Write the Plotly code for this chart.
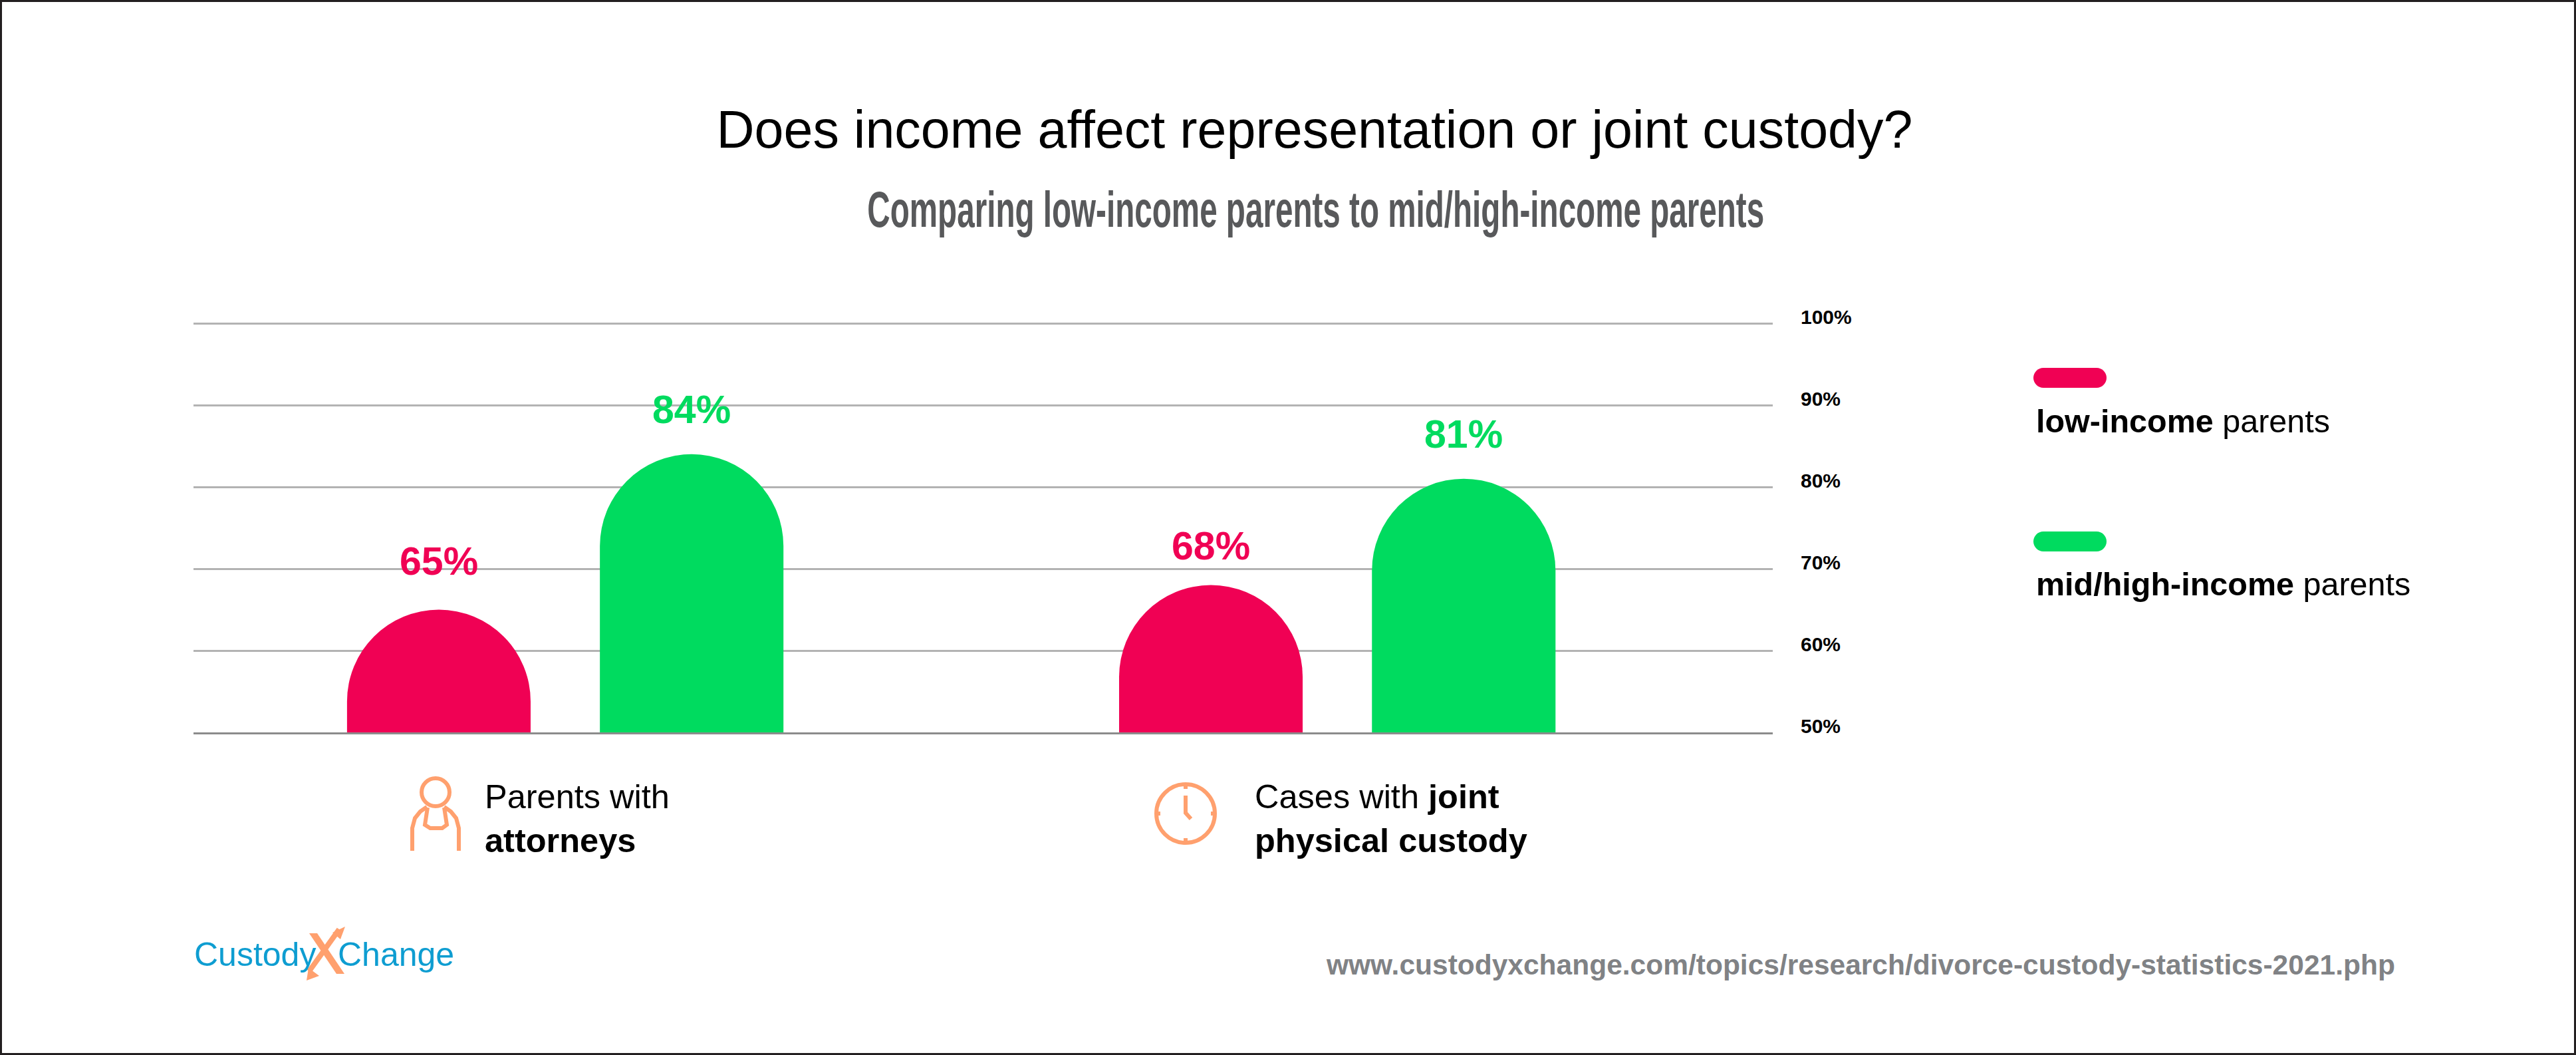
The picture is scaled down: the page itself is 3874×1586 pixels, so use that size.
import plotly.graph_objects as go

W, H = 3874, 1586
L, R, T, B = 291, 2666, 484, 1101

categories = ['Parents with attorneys', 'Cases with joint physical custody']
category_labels = ['Parents with<br><b>attorneys</b>', 'Cases with <b>joint</b><br><b>physical custody</b>']
low_income = [65, 68]
mid_high_income = [84, 81]
y_ticks = [50, 60, 70, 80, 90, 100]
y_tick_labels = ['50%', '60%', '70%', '80%', '90%', '100%']
legend_labels = ['<b>low-income</b> parents', '<b>mid/high-income</b> parents']
subtitle = 'Comparing low-income parents to mid/high-income parents'

PINK = '#f00154'
GREEN = '#00db5f'
ORANGE = '#ffa06e'
BLUE = '#0e9dd1'
FONT = 'Liberation Sans'


# page pixels to paper coordinates
def px(x):
    return (x - L) / (R - L)


def py(y):
    return (B - y) / (B - T)


def path(points, close=False):
    s = 'M ' + ' L '.join(f'{px(x):.5f},{py(y):.5f}' for x, y in points)
    return s + (' Z' if close else '')


def pill(x0, y0, x1, y1, color):
    r = (y1 - y0) / 2
    k = r * 0.45
    d = (f'M {px(x0 + r):.5f},{py(y0):.5f} L {px(x1 - r):.5f},{py(y0):.5f} '
         f'C {px(x1 - k):.5f},{py(y0):.5f} {px(x1):.5f},{py(y0 + k):.5f} {px(x1):.5f},{py(y0 + r):.5f} '
         f'C {px(x1):.5f},{py(y1 - k):.5f} {px(x1 - k):.5f},{py(y1):.5f} {px(x1 - r):.5f},{py(y1):.5f} '
         f'L {px(x0 + r):.5f},{py(y1):.5f} '
         f'C {px(x0 + k):.5f},{py(y1):.5f} {px(x0):.5f},{py(y1 - k):.5f} {px(x0):.5f},{py(y1 - r):.5f} '
         f'C {px(x0):.5f},{py(y0 + k):.5f} {px(x0 + k):.5f},{py(y0):.5f} {px(x0 + r):.5f},{py(y0):.5f} Z')
    return dict(type='path', xref='paper', yref='paper', path=d, fillcolor=color, line=dict(width=0))


def line_shape(points, width=6, color=ORANGE):
    return dict(type='path', xref='paper', yref='paper', path=path(points),
                line=dict(color=color, width=width))


def poly_shape(points, color=ORANGE):
    return dict(type='path', xref='paper', yref='paper', path=path(points, True),
                fillcolor=color, line=dict(width=0))


def circle(cx, cy, r, width=6):
    return dict(type='circle', xref='paper', yref='paper', x0=px(cx - r), x1=px(cx + r),
                y0=py(cy + r), y1=py(cy - r), line=dict(color=ORANGE, width=width))


fig = go.Figure()
fig.add_trace(go.Bar(x=categories, y=low_income, marker=dict(color=PINK, cornerradius='50%', line=dict(width=0))))
fig.add_trace(go.Bar(x=categories, y=mid_high_income, marker=dict(color=GREEN, cornerradius='50%', line=dict(width=0))))

shapes = [
    # frame
    dict(type='rect', xref='paper', yref='paper', x0=px(1.5), x1=px(W - 1.5), y0=py(H - 1.5), y1=py(1.5),
         line=dict(color='#231f20', width=3)),
    # legend swatches
    pill(3058, 553, 3168, 583, PINK),
    pill(3058, 799, 3168, 829, GREEN),
    # person icon
    circle(655, 1191, 21),
    line_shape([(620, 1279), (620, 1245), (624, 1230), (632, 1220), (642, 1213)]),
    line_shape([(690, 1279), (690, 1245), (686, 1230), (678, 1220), (668, 1213)]),
    line_shape([(643, 1214), (639, 1240), (647, 1245), (665, 1245), (672, 1240), (668, 1214)]),
    # clock icon
    circle(1783, 1223, 44),
    line_shape([(1783, 1179), (1783, 1186)]),
    line_shape([(1783, 1260), (1783, 1267)]),
    line_shape([(1739, 1223), (1745, 1223)]),
    line_shape([(1821, 1223), (1827, 1223)]),
    line_shape([(1783, 1196), (1783, 1222), (1791, 1231)]),
    # logo X
    poly_shape([(465, 1403), (477, 1403), (518, 1464), (506, 1464)]),
    line_shape([(465, 1460), (510, 1397)], width=8),
    poly_shape([(519, 1393), (500, 1402), (512, 1412)]),
    poly_shape([(461, 1474), (480, 1467), (464, 1455)]),
]

annotations = []
# data labels sit well above the bars, so they are annotations
low_lift = [73, 59]
high_lift = [67, 67]
for i, cat in enumerate(categories):
    annotations.append(dict(x=cat, y=low_income[i], xshift=-190, yshift=low_lift[i], text=f'<b>{low_income[i]}%</b>',
                            showarrow=False, font=dict(size=59, color=PINK, family=FONT)))
    annotations.append(dict(x=cat, y=mid_high_income[i], xshift=190, yshift=high_lift[i], text=f'<b>{mid_high_income[i]}%</b>',
                            showarrow=False, font=dict(size=59, color=GREEN, family=FONT)))
    annotations.append(dict(x=cat, y=py(1230), yref='paper', xshift=[-123, -126][i], text=category_labels[i],
                            align='left', xanchor='left', yanchor='middle', showarrow=False,
                            font=dict(size=50.5, color='black', family=FONT)))

for label, y in zip(legend_labels, [633, 878]):
    annotations.append(dict(x=px(3060), y=py(y), xref='paper', yref='paper', text=label, align='left',
                            xanchor='left', yanchor='middle', showarrow=False,
                            font=dict(size=48.5, color='black', family=FONT)))

annotations += [
    dict(x=px(1979), y=py(314), xref='paper', yref='paper', text=f'<b>{subtitle}</b>',
         showarrow=False, xanchor='center', yanchor='middle',
         font=dict(size=76, color='#58595b', family=FONT)),
    dict(x=px(290), y=py(1435), xref='paper', yref='paper', text='Custody', showarrow=False,
         xanchor='left', yanchor='middle', font=dict(size=50, color=BLUE, family=FONT)),
    dict(x=px(506), y=py(1435), xref='paper', yref='paper', text='Change', showarrow=False,
         xanchor='left', yanchor='middle', font=dict(size=50, color=BLUE, family=FONT)),
    dict(x=px(3604), y=py(1450), xref='paper', yref='paper',
         text='<b>www.custodyxchange.com/topics/research/divorce-custody-statistics-2021.php</b>',
         showarrow=False, xanchor='right', yanchor='middle', font=dict(size=42.5, color='#808285', family=FONT)),
]

fig.update_layout(
    width=W, height=H,
    margin=dict(l=L, r=W - R, t=T, b=H - B, pad=0),
    paper_bgcolor='white', plot_bgcolor='white',
    barmode='group', bargap=0.345, bargroupgap=0.274,
    showlegend=False,
    title=dict(text='Does income affect representation or joint custody?', x=1977 / W, xanchor='center',
               y=1 - 194 / H, yanchor='middle', font=dict(size=79, color='black', family=FONT)),
    shapes=shapes, annotations=annotations,
)
fig.update_xaxes(range=[-0.4815, 1.564], showticklabels=False, ticks='', showgrid=False,
                 showline=True, linecolor='#8c8c8c', linewidth=3)
# range runs just past 100 or plotly drops the top gridline
fig.update_yaxes(range=[50, 100 + 2 / 12.3], side='right', tickvals=y_ticks, ticktext=y_tick_labels, ticks='',
                 showgrid=True, gridcolor='#b3b3b3', gridwidth=3, zeroline=False, showline=False,
                 ticklabelstandoff=41, ticklabelshift=-10,
                 tickfont=dict(size=30, color='black', family=FONT, weight=700))

# no condensed font installed, so squeeze the subtitle sideways to its width
squeeze = """
document.body.style.margin = '0';
document.querySelectorAll('text.annotation-text').forEach(function (t) {
  if (t.textContent.indexOf('Comparing') !== 0) return;
  var b = t.getBBox();
  var cx = b.x + b.width / 2;
  t.setAttribute('transform', 'translate(' + cx + ',0) scale(' + (1349 / b.width) + ',1) translate(' + (-cx) + ',0)');
});
"""

fig.write_html("out.html", config=dict(displayModeBar=False), post_script=squeeze)
